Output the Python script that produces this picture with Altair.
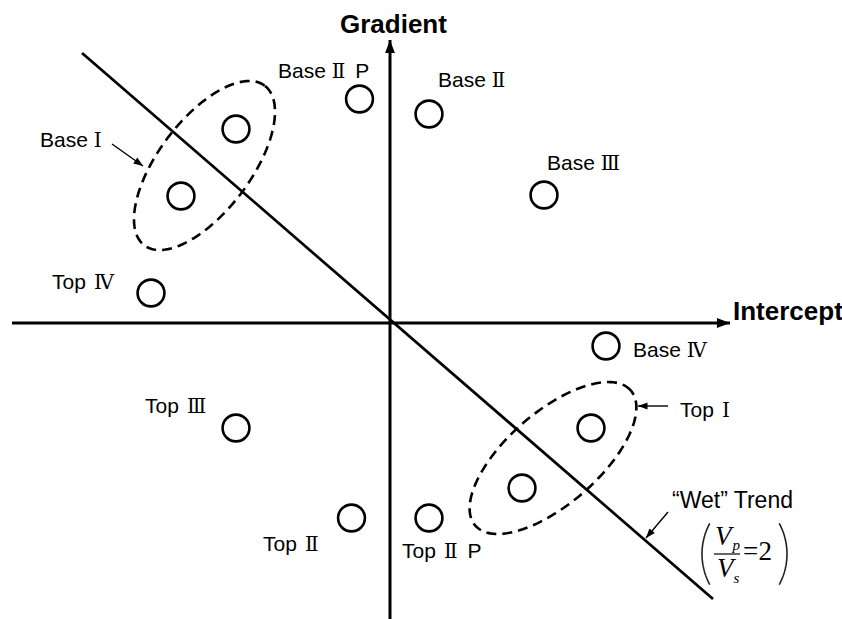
import altair as alt
import numpy as np
import pandas as pd

# Intercept / gradient plane (arbitrary units, origin at the crossing of the axes)
X_DOMAIN = [-3.90, 4.52]
Y_DOMAIN = [-2.96, 3.23]
PX_PER_UNIT = 100.0  # 842 px across 8.42 units

# AVO classes plotted as open circles
point_class = ["Base I", "Base I", "Base II P", "Base II", "Base III", "Base IV",
               "Top I", "Top I", "Top II", "Top II P", "Top III", "Top IV"]
point_intercept = [-2.09, -1.54, -0.305, 0.39, 1.54, 2.16,
                   1.32, 2.01, -0.385, 0.39, -1.54, -2.39]
point_gradient = [1.27, 1.94, 2.24, 2.09, 1.28, -0.23,
                  -1.65, -1.05, -1.95, -1.95, -1.05, 0.30]

# Class labels: word, roman numeral, suffix (left edge / baseline)
label_word = ["Base", "Base", "Base", "Base", "Top", "Base", "Top", "Top", "Top", "Top"]
label_num = ["\u2160", "\u2161", "\u2161", "\u2162", "\u2163", "\u2163", "\u2160", "\u2162", "\u2161", "\u2161"]
label_suffix = ["", "P", "", "", "", "", "", "", "", "P"]
label_x = [-3.50, -1.12, 0.48, 1.57, -3.38, 2.43, 2.90, -2.45, -1.27, 0.12]
label_y = [1.76, 2.45, 2.36, 1.53, 0.34, -0.34, -0.94, -0.90, -2.28, -2.35]

# Dashed groupings: centre, semi-axes, tilt (deg)
group_name = ["Base I", "Top I"]
group_cx = [-1.855, 1.63]
group_cy = [1.575, -1.35]
group_a = [1.00, 1.03]
group_b = [0.46, 0.46]
group_tilt = [53.0, 41.0]

# "Wet" trend line, Vp/Vs = 2
trend_x = [-3.08, 3.23]
trend_y = [2.70, -2.76]

# Axis extents
axis_x = [-3.78, 3.40]
axis_y = [-2.96, 2.83]

# Pointer arrows (start -> tip)
pointer_x0 = [-2.78, 2.78, 2.78]
pointer_y0 = [1.79, -0.83, -1.89]
pointer_x1 = [-2.47, 2.48, 2.56]
pointer_y1 = [1.57, -0.83, -2.15]

LABEL_SIZE = 21
NUM_SIZE = 20
SANS = "Liberation Sans"
NUM_FONT = "DejaVu Serif"

# approximate advance widths (em) of the glyphs used in the labels
SANS_W = {"B": 0.667, "a": 0.556, "s": 0.5, "e": 0.556, "T": 0.611, "o": 0.556,
          "p": 0.556, "P": 0.667, " ": 0.278}
NUM_W = {"\u2160": 0.50, "\u2161": 0.88, "\u2162": 1.24, "\u2163": 1.20}


def width_units(s, table, size):
    return sum(table[c] for c in s) * size / PX_PER_UNIT


xs = alt.Scale(domain=X_DOMAIN, nice=False, zero=False)
ys = alt.Scale(domain=Y_DOMAIN, nice=False, zero=False)


def X(field):
    return alt.X(field, type="quantitative", scale=xs, axis=None)


def Y(field):
    return alt.Y(field, type="quantitative", scale=ys, axis=None)


# ---- line segments: axes, trend, pointers, fraction bar
seg = pd.DataFrame({
    "x": [axis_x[0], 0.0, trend_x[0]] + pointer_x0 + [3.24],
    "y": [0.0, axis_y[0], trend_y[0]] + pointer_y0 + [-2.31],
    "x2": [axis_x[1], 0.0, trend_x[1]] + pointer_x1 + [3.50],
    "y2": [0.0, axis_y[1], trend_y[1]] + pointer_y1 + [-2.31],
    "w": [3.0, 3.0, 2.7, 1.4, 1.4, 1.4, 1.2],
})
segments = alt.Chart(seg).mark_rule(color="black", strokeCap="butt").encode(
    x=X("x"), y=Y("y"), x2="x2", y2="y2",
    strokeWidth=alt.StrokeWidth("w:Q", scale=None),
)

# ---- arrowheads, angle measured clockwise from "up"
heads = pd.DataFrame({
    "x": [axis_x[1], 0.0] + pointer_x1,
    "y": [0.0, axis_y[1]] + pointer_y1,
    "dx": [1.0, 0.0] + [b - a for a, b in zip(pointer_x0, pointer_x1)],
    "dy": [0.0, 1.0] + [b - a for a, b in zip(pointer_y0, pointer_y1)],
    "s": [170, 170, 90, 90, 90],
})
heads["ang"] = (np.degrees(np.arctan2(heads["dx"], heads["dy"])) + 360) % 360
arrowheads = alt.Chart(heads).mark_point(
    shape="M0,0L-0.75,2L0.75,2Z", filled=True, color="black", opacity=1, strokeWidth=0
).encode(
    x=X("x"), y=Y("y"),
    size=alt.Size("s:Q", scale=None),
    angle=alt.Angle("ang:Q", scale=None),
)

# ---- dashed ellipses
rows = []
for name, cx, cy, a, b, tilt in zip(group_name, group_cx, group_cy, group_a, group_b, group_tilt):
    th = np.radians(tilt)
    for i, t in enumerate(np.linspace(0, 2 * np.pi, 145)):
        rows.append({
            "g": name, "i": i,
            "x": cx + a * np.cos(t) * np.cos(th) - b * np.sin(t) * np.sin(th),
            "y": cy + a * np.cos(t) * np.sin(th) + b * np.sin(t) * np.cos(th),
        })
ellipses = alt.Chart(pd.DataFrame(rows)).mark_line(
    color="black", strokeWidth=2.6, strokeDash=[10, 6]
).encode(x=X("x"), y=Y("y"), detail="g:N", order="i:Q")

# ---- circles
pts = pd.DataFrame({"cls": point_class, "x": point_intercept, "y": point_gradient})
circles = alt.Chart(pts).mark_point(
    shape="circle", filled=False, color="black", size=720, strokeWidth=2.6, opacity=1
).encode(x=X("x"), y=Y("y"), detail="cls:N")

# ---- labels: sans words with serif roman numerals
sans_rows, num_rows = [], []
for w, n, suf, x, y in zip(label_word, label_num, label_suffix, label_x, label_y):
    sans_rows.append({"t": w, "x": x, "y": y})
    xn = x + width_units(w + " ", SANS_W, LABEL_SIZE)
    num_rows.append({"t": n, "x": xn, "y": y})
    if suf:
        xs_ = xn + width_units(n, NUM_W, NUM_SIZE) + width_units(" ", SANS_W, LABEL_SIZE)
        sans_rows.append({"t": suf, "x": xs_, "y": y})

label_words = alt.Chart(pd.DataFrame(sans_rows)).mark_text(
    align="left", baseline="alphabetic", font=SANS, fontSize=LABEL_SIZE, color="black"
).encode(x=X("x"), y=Y("y"), text="t:N")
label_nums = alt.Chart(pd.DataFrame(num_rows)).mark_text(
    align="left", baseline="alphabetic", font=NUM_FONT, fontSize=NUM_SIZE, color="black"
).encode(x=X("x"), y=Y("y"), text="t:N")

wet = alt.Chart(pd.DataFrame({"t": ["\u201cWet\u201d Trend"], "x": [2.82], "y": [-1.85]})).mark_text(
    align="left", baseline="alphabetic", font=SANS, fontSize=23, color="black"
).encode(x=X("x"), y=Y("y"), text="t:N")

titles = alt.Chart(pd.DataFrame({
    "t": ["Gradient", "Intercept"], "x": [-0.50, 3.43], "y": [2.90, 0.03]
})).mark_text(
    align="left", baseline="alphabetic", font=SANS, fontSize=26,
    fontWeight="bold", color="black"
).encode(x=X("x"), y=Y("y"), text="t:N")

# ---- Vp/Vs = 2 annotation
italic = alt.Chart(pd.DataFrame({
    "t": ["V", "p", "V", "s"],
    "x": [3.25, 3.425, 3.27, 3.435],
    "y": [-2.22, -2.265, -2.54, -2.60],
    "fs": [27, 15, 27, 15],
})).mark_text(
    align="left", baseline="alphabetic", font="Liberation Serif", fontStyle="italic", color="black"
).encode(x=X("x"), y=Y("y"), text="t:N", size=alt.Size("fs:Q", scale=None))

upright = alt.Chart(pd.DataFrame({
    "t": ["=", "2"], "x": [3.53, 3.685], "y": [-2.37, -2.37]
})).mark_text(
    align="left", baseline="alphabetic", font="Liberation Serif", fontSize=27, color="black"
).encode(x=X("x"), y=Y("y"), text="t:N")

prow = []
for side, cx, sgn in [("L", 3.76, -1), ("R", 3.33, 1)]:
    for i, t in enumerate(np.linspace(-0.50, 0.50, 41)):
        prow.append({"g": side, "i": i, "x": cx + sgn * 0.64 * np.cos(t), "y": -2.31 + 0.64 * np.sin(t)})
parens = alt.Chart(pd.DataFrame(prow)).mark_line(color="#222222", strokeWidth=1.6).encode(
    x=X("x"), y=Y("y"), detail="g:N", order="i:Q"
)

chart = alt.layer(
    ellipses, segments, arrowheads, circles, label_words, label_nums, wet, titles,
    italic, upright, parens
).properties(
    width=842, height=619, padding=0, autosize=alt.AutoSizeParams(type="none"),
    background="white",
).configure_view(stroke=None)

chart.save("out.html", embed_options={"renderer": "svg", "actions": False})
